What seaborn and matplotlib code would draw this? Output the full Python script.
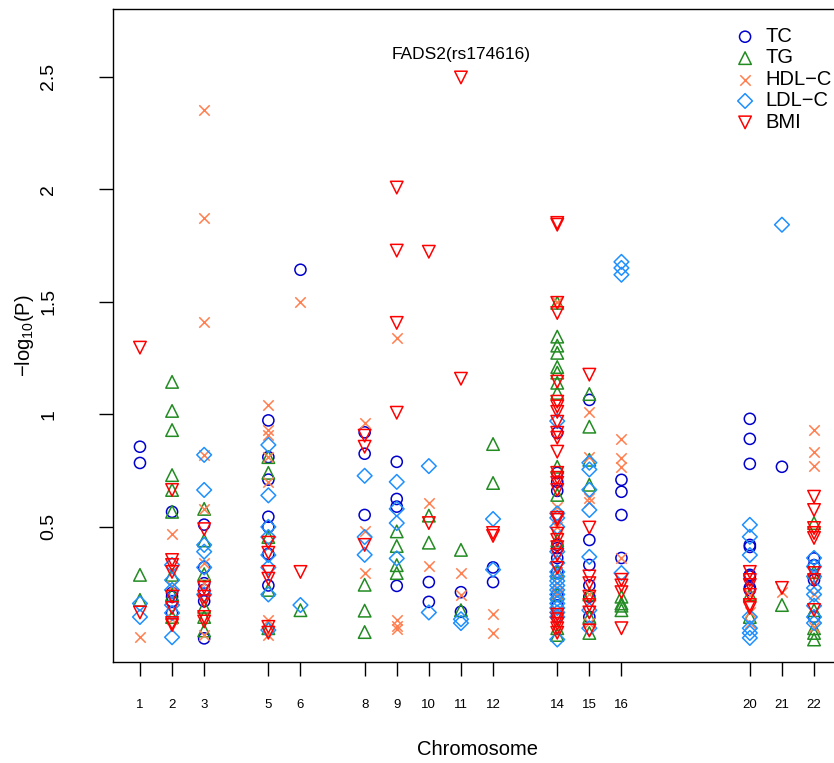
import matplotlib
matplotlib.use("Agg")
import matplotlib.pyplot as plt
import seaborn as sns
import pandas as pd

# ---------------- data ----------------
CHROMOSOMES = [1, 2, 3, 5, 6, 8, 9, 10, 11, 12, 14, 15, 16, 20, 21, 22]
TRAITS = ["TC", "TG", "HDL\u2212C", "LDL\u2212C", "BMI"]
COLORS = ["#0000CD", "#228B22", "#FF7F50", "#1E90FF", "#FF0000"]
MARKERS = ["o", "^", "x", "D", "v"]
SIZES = [64, 81, 56, 56, 81]

TC = {1: [0.856, 0.784], 2: [0.567, 0.207, 0.17, 0.118, 0.19],
      3: [0.51, 0.32, 0.25, 0.22, 0.005, 0.17],
      5: [0.973, 0.81, 0.71, 0.545, 0.50, 0.24, 0.38], 6: [1.642],
      8: [0.92, 0.825, 0.553], 9: [0.789, 0.624, 0.59, 0.238],
      10: [0.255, 0.167], 11: [0.21, 0.123], 12: [0.32, 0.255],
      14: [0.918, 0.74, 0.70, 0.66, 0.406, 0.362, 0.42, 0.30, 0.2, 0.15, 0.1],
      15: [1.064, 0.442, 0.331, 0.24, 0.19, 0.1],
      16: [0.709, 0.656, 0.553, 0.362],
      20: [0.98, 0.891, 0.78, 0.42, 0.411, 0.287, 0.28, 0.23, 0.22],
      21: [0.767], 22: [0.36, 0.33, 0.264, 0.1]}

TG = {1: [0.287, 0.176], 2: [1.144, 1.015, 0.93, 0.73, 0.664, 0.567, 0.287, 0.2, 0.1],
      3: [0.58, 0.44, 0.29, 0.145, 0.04, 0.1],
      5: [0.81, 0.74, 0.455, 0.22, 0.05], 6: [0.13],
      8: [0.243, 0.128, 0.033], 9: [0.48, 0.415, 0.33, 0.295],
      10: [0.55, 0.43], 11: [0.398, 0.13], 12: [0.868, 0.695],
      14: [1.495, 1.345, 1.305, 1.273, 1.21, 1.185, 1.14, 1.095, 0.767, 0.642,
           0.44, 0.3, 0.2, 0.05, 0.02],
      15: [1.09, 0.945, 0.798, 0.687, 0.2, 0.1, 0.029],
      16: [0.19, 0.16, 0.15, 0.13], 20: [0.2, 0.1], 21: [0.153],
      22: [0.517, 0.3, 0.13, 0.05, 0.029, 0.0]}

HDL = {1: [0.01], 2: [0.469, 0.238, 0.09],
       3: [2.353, 1.873, 1.411, 0.82, 0.58, 0.34, 0.25, 0.02],
       5: [1.042, 0.93, 0.91, 0.81, 0.70, 0.087, 0.02], 6: [1.5],
       8: [0.962, 0.48, 0.296], 9: [1.34, 0.085, 0.06, 0.045],
       10: [0.606, 0.327], 11: [0.295, 0.197], 12: [0.113, 0.028],
       14: [1.5, 0.59, 0.5, 0.3, 0.25, 0.2, 0.12],
       15: [1.01, 0.81, 0.63, 0.61, 0.2, 0.075],
       16: [0.892, 0.807, 0.767, 0.362], 20: [0.198, 0.12, 0.073],
       21: [0.212], 22: [0.931, 0.834, 0.771, 0.2, 0.056]}

LDL = {1: [0.16, 0.1], 2: [0.331, 0.264, 0.22, 0.153, 0.118, 0.01],
       3: [0.82, 0.664, 0.42, 0.39, 0.32, 0.2],
       5: [0.864, 0.64, 0.50, 0.455, 0.375, 0.32, 0.2, 0.042], 6: [0.153],
       8: [0.727, 0.455, 0.376], 9: [0.70, 0.58, 0.517, 0.36],
       10: [0.77, 0.12], 11: [0.09, 0.073], 12: [0.535, 0.31],
       14: [0.97, 0.56, 0.54, 0.5, 0.39, 0.34, 0.3, 0.28, 0.26, 0.24, 0.22,
            0.2, 0.18, 0.16, 0.14, 0.12, 0.1, 0.0],
       15: [0.785, 0.755, 0.665, 0.575, 0.367, 0.13, 0.05],
       16: [1.677, 1.65, 1.62, 0.295],
       20: [0.509, 0.456, 0.375, 0.1, 0.05, 0.029, 0.007],
       21: [1.842], 22: [0.362, 0.324, 0.28, 0.229, 0.2, 0.15, 0.1, 0.073]}

BMI = {1: [1.296, 0.12], 2: [0.664, 0.353, 0.331, 0.3, 0.19, 0.14, 0.073, 0.064],
       3: [0.49, 0.23, 0.19, 0.17, 0.1, 0.08],
       5: [0.43, 0.385, 0.3, 0.27, 0.056, 0.03], 6: [0.3],
       8: [0.905, 0.856, 0.42], 9: [2.007, 1.727, 1.406, 1.007],
       10: [1.722, 0.517], 11: [2.496, 1.158], 12: [0.473, 0.46],
       14: [1.85, 1.842, 1.495, 1.45, 1.145, 1.056, 1.035, 1.011, 0.967, 0.918,
            0.896, 0.834, 0.74, 0.718, 0.696, 0.664, 0.54, 0.531, 0.47, 0.442,
            0.41, 0.376, 0.318, 0.11, 0.09, 0.07, 0.05, 0.03],
       15: [1.176, 0.497, 0.28, 0.25, 0.19, 0.153, 0.12, 0.04],
       16: [0.265, 0.24, 0.21, 0.05],
       20: [0.3, 0.264, 0.242, 0.198, 0.153, 0.14], 21: [0.229],
       22: [0.634, 0.575, 0.495, 0.473, 0.451, 0.295, 0.264, 0.131]}

ANNOT_TEXT = "FADS2(rs174616)"
ANNOT_CHR = 11
ANNOT_Y = 2.6

YTICKS = [0.5, 1, 1.5, 2, 2.5]
YTICKLABELS = ["0.5", "1", "1.5", "2", "2.5"]

# ---------------- plot ----------------
sns.set_style("white")
plt.rcParams["font.family"] = ["Liberation Sans", "DejaVu Sans"]
plt.rcParams["mathtext.fontset"] = "custom"
plt.rcParams["mathtext.rm"] = "Liberation Sans"
plt.rcParams["mathtext.it"] = "Liberation Sans"
plt.rcParams["text.color"] = "black"
plt.rcParams["axes.labelcolor"] = "black"
plt.rcParams["xtick.color"] = "black"
plt.rcParams["ytick.color"] = "black"

fig = plt.figure(figsize=(8.34, 7.63), dpi=100)
W, H = 834, 763
left, right, top, bottom = 113, 841, 9, 662
ax = fig.add_axes([left / W, 1 - bottom / H, (right - left) / W, (bottom - top) / H])

series = [TC, TG, HDL, LDL, BMI]
for name, data, col, mk, sz in zip(TRAITS, series, COLORS, MARKERS, SIZES):
    chrs, vals = [], []
    for c, vs in data.items():
        chrs += [c] * len(vs)
        vals += vs
    df = pd.DataFrame({"chr": chrs, "logp": vals})
    if mk == "x":
        sns.scatterplot(data=df, x="chr", y="logp", marker=mk, color=col,
                        s=sz, linewidth=1.1, ax=ax, label=name)
    else:
        sns.scatterplot(data=df, x="chr", y="logp", marker=mk, color=col,
                        facecolors="none", edgecolor=col, s=sz, linewidth=1.1,
                        ax=ax, label=name)

ax.set_xlim(0.16, 22.84)
ax.set_ylim(-0.1, 2.80)
ax.set_xticks(CHROMOSOMES)
ax.set_xticklabels([str(c) for c in CHROMOSOMES], fontsize=9.5, color="black")
ax.set_yticks(YTICKS)
ax.set_yticklabels(YTICKLABELS, fontsize=14, rotation=90, va="center", color="black")
ax.tick_params(axis="x", length=10, width=1.0, color="black", pad=17, bottom=True)
ax.tick_params(axis="y", length=10, width=1.0, color="black", pad=30, left=True)

for sp in ["left", "bottom", "top"]:
    ax.spines[sp].set_color("black")
    ax.spines[sp].set_linewidth(1.0)
ax.spines["right"].set_visible(False)

ax.set_xlabel("Chromosome", fontsize=14.5, color="black")
ax.xaxis.set_label_coords(0.5, -(740 - bottom) / (bottom - top))
ax.set_ylabel(r"$\mathrm{-log_{10}(P)}$", fontsize=14.5, color="black")
ax.yaxis.set_label_coords(-(113 - 36) / (right - left), 0.5)

ax.text(ANNOT_CHR, ANNOT_Y, ANNOT_TEXT, ha="center", va="center",
        fontsize=12.5, color="black")

leg = ax.legend(loc="upper left", bbox_to_anchor=(735 / W, 1 - 27 / H),
                bbox_transform=fig.transFigure, frameon=False, fontsize=14.5,
                handlelength=1.0, handletextpad=0.5, labelspacing=0.12,
                borderpad=0, borderaxespad=0)
for t in leg.get_texts():
    t.set_color("black")

fig.savefig("out.png", dpi=100)
